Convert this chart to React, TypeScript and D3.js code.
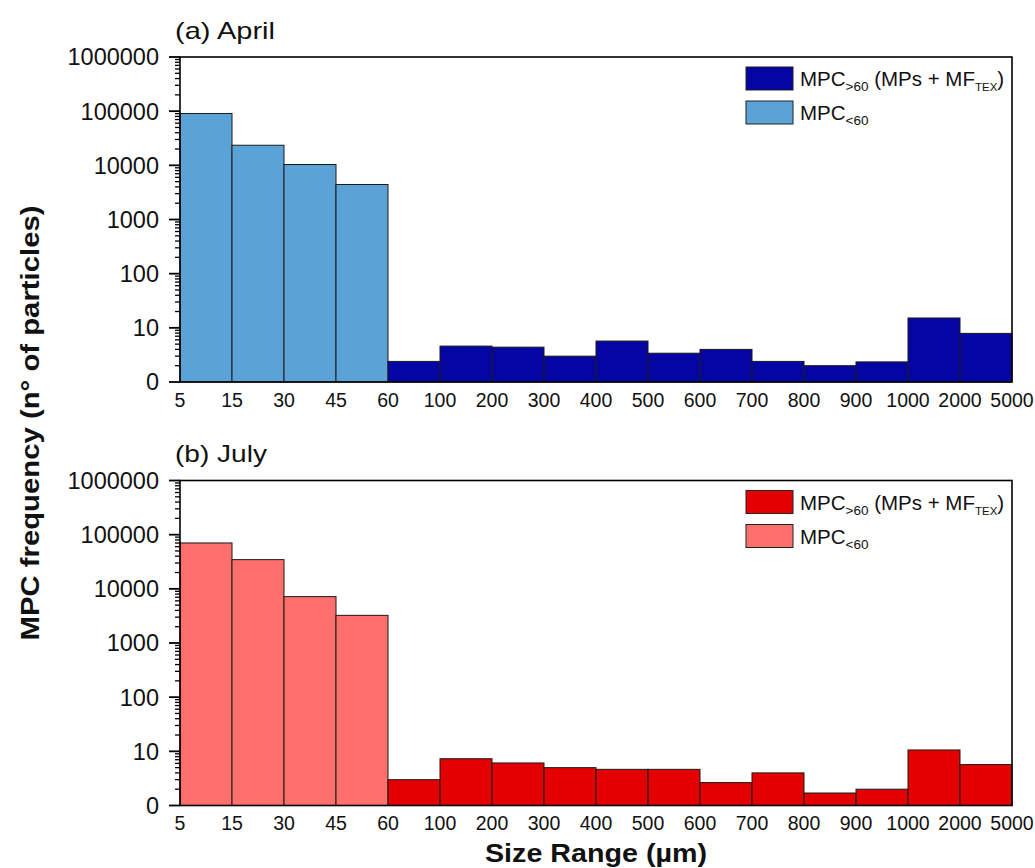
import React from "react";
import * as d3 from "d3";

const edgeLabels = ["5", "15", "30", "45", "60", "100", "200", "300", "400", "500", "600", "700", "800", "900", "1000", "2000", "5000"];
const binsSmall = ["5-15", "15-30", "30-45", "45-60"];
const binsLarge = ["60-100", "100-200", "200-300", "300-400", "400-500", "500-600", "600-700", "700-800", "800-900", "900-1000", "1000-2000", "2000-5000"];

const aprilSmall = [90600, 23500, 10350, 4430];
const aprilLarge = [2.4, 4.6, 4.4, 3.0, 5.7, 3.4, 4.0, 2.4, 2.0, 2.35, 15.2, 7.9];
const julySmall = [70300, 34600, 7180, 3240];
const julyLarge = [3.0, 7.3, 6.1, 5.0, 4.65, 4.65, 2.65, 4.0, 1.7, 2.0, 10.6, 5.7];

const yTicks = [1, 10, 100, 1000, 10000, 100000, 1000000];

const W = 1035, H = 868;
const X0 = 180, X1 = 1012;
const PH = 325;
const FONT = "Liberation Sans, Arial, Helvetica, sans-serif";

const allBins = [...binsSmall, ...binsLarge];

function Panel({ top, title, titleLen, small, large, cSmall, cLarge }: any) {
  const x = d3.scaleBand<string>().domain(allBins).range([X0, X1]).padding(0);
  const xEdge = d3.scaleLinear().domain([0, edgeLabels.length - 1]).range([X0, X1]);
  const y = d3.scaleLog().domain([1, 1e6]).range([top + PH, top]);
  const minor: number[] = [];
  for (let d = 1; d < 1e6; d *= 10) for (let k = 2; k <= 9; k++) minor.push(d * k);
  const bottom = top + PH;
  return (
    <g>
      <text x={175} y={top - 18.5} fontSize={24} fontFamily={FONT} fill="#111" textLength={titleLen} lengthAdjust="spacingAndGlyphs">{title}</text>
      {binsSmall.map((b, i) => (
        <rect key={b} x={x(b)} y={y(small[i])} width={x.bandwidth()} height={bottom - y(small[i])} fill={cSmall} stroke="#1a1a1a" strokeWidth={1} />
      ))}
      {binsLarge.map((b, i) => (
        <rect key={b} x={x(b)} y={y(large[i])} width={x.bandwidth()} height={bottom - y(large[i])} fill={cLarge} stroke="#1a1a1a" strokeWidth={1} />
      ))}
      <rect x={X0} y={top} width={X1 - X0} height={PH} fill="none" stroke="#000" strokeWidth={1.6} />
      {minor.map((v) => (
        <line key={"m" + v} x1={X0 - 5} x2={X0} y1={y(v)} y2={y(v)} stroke="#000" strokeWidth={1.3} />
      ))}
      {yTicks.map((v) => (
        <g key={"t" + v}>
          <line x1={X0 - 11} x2={X0} y1={y(v)} y2={y(v)} stroke="#000" strokeWidth={1.8} />
          <text x={159} y={y(v)} dy="0.36em" textAnchor="end" fontSize={23.5} fontFamily={FONT} fill="#111">{v === 1 ? "0" : String(v)}</text>
        </g>
      ))}
      {edgeLabels.map((l, i) => (
        <text key={"x" + l} x={xEdge(i)} y={bottom + 24.5} textAnchor="middle" fontSize={19.5} fontFamily={FONT} fill="#111">{l}</text>
      ))}
      <rect x={746} y={top + 10} width={47} height={23} fill={cLarge} stroke="#222" strokeWidth={1} />
      <rect x={746} y={top + 44} width={47} height={23} fill={cSmall} stroke="#222" strokeWidth={1} />
      <text x={800} y={top + 29} fontSize={20.5} fontFamily={FONT} fill="#111">
        MPC<tspan fontSize={13.5} dy={5}>{">60"}</tspan>
        <tspan dy={-5}> (MPs + MF</tspan>
        <tspan fontSize={11.5} dy={5}>TEX</tspan>
        <tspan dy={-5}>)</tspan>
      </text>
      <text x={800} y={top + 63} fontSize={20.5} fontFamily={FONT} fill="#111">
        MPC<tspan fontSize={13.5} dy={5}>{"<60"}</tspan>
      </text>
    </g>
  );
}

export default function App() {
  return (
    <svg width={W} height={H} style={{ position: "absolute", left: 0, top: 0, background: "#fff" }}>
      <rect x={0} y={0} width={W} height={H} fill="#fff" />
      <Panel top={57} title="(a) April" titleLen={100} small={aprilSmall} large={aprilLarge} cSmall="#5ba3d6" cLarge="#0505a3" />
      <Panel top={480.5} title="(b) July" titleLen={92} small={julySmall} large={julyLarge} cSmall="#ff6f6b" cLarge="#e40000" />
      <text transform="translate(39,423) rotate(-90)" textAnchor="middle" fontSize={25} fontWeight="bold" fontFamily={FONT} fill="#111" textLength={435} lengthAdjust="spacingAndGlyphs">MPC frequency (n° of particles)</text>
      <text x={596} y={862} textAnchor="middle" fontSize={25} fontWeight="bold" fontFamily={FONT} fill="#111" textLength={222} lengthAdjust="spacingAndGlyphs">Size Range (µm)</text>
    </svg>
  );
}
